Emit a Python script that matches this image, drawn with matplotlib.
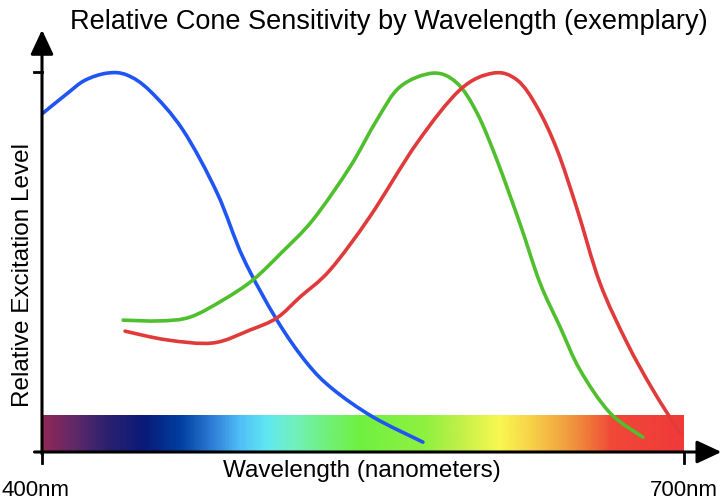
import numpy as np
import matplotlib
matplotlib.use("Agg")
import matplotlib.pyplot as plt
from matplotlib.colors import LinearSegmentedColormap
from matplotlib.patches import ArrowStyle, PathPatch
from matplotlib.path import Path

plt.rcParams['font.family'] = ['Liberation Sans', 'DejaVu Sans']

# curves (wavelength nm, relative level)
blue_nm = [400.5, 411.7, 420.0, 430.4, 439.7, 450.5, 465.9, 481.8, 494.0,
           509.8, 523.8, 536.0, 554.7, 578.0]
blue_lvl = [0.892, 0.943, 0.978, 0.997, 0.992, 0.950, 0.847, 0.682, 0.511,
            0.347, 0.234, 0.165, 0.092, 0.026]

green_nm = [437.9, 455.1, 469.2, 484.6, 498.6, 512.0, 526.6, 543.9, 556.5, 567.3,
            582.7, 593.9, 603.3, 612.6, 623.4, 632.7, 642.1, 651.4, 665.4, 680.8]
green_lvl = [0.347, 0.345, 0.355, 0.400, 0.453, 0.525, 0.611, 0.750, 0.874, 0.961,
             0.997, 0.971, 0.892, 0.768, 0.600, 0.445, 0.329, 0.216, 0.103, 0.039]

red_nm = [438.8, 458.4, 479.9, 497.2, 509.8, 520.6, 534.6, 553.3, 575.2,
          595.3, 610.8, 622.0, 631.3, 640.7, 650.0, 660.7, 673.4, 685.5, 698.1]
red_lvl = [0.318, 0.295, 0.287, 0.321, 0.353, 0.408, 0.479, 0.620, 0.813,
           0.953, 0.997, 0.979, 0.908, 0.795, 0.640, 0.445, 0.287, 0.163, 0.050]

# spectrum bar colour stops
spec_nm = [400, 414.5, 430.4, 447.2, 464.5, 479.9, 492.5, 505.1, 517.3, 531.3,
           548.6, 579.9, 595.3, 614.0, 629.4, 645.3, 657.5, 666.8, 700]
spec_col = ['#902858', '#602868', '#2a2070', '#0a1a78', '#0040a0', '#3080d8',
            '#50c0f8', '#60e8f0', '#70f0c0', '#70f080', '#70f040', '#90f040',
            '#c0f048', '#f8f850', '#f8d048', '#f0a040', '#f07038', '#f04838', '#f03a38']


def smooth_path(xs, ys):
    # catmull-rom through the read points, drawn as cubic bezier segments
    p = np.column_stack([xs, ys])
    verts = [p[0]]
    codes = [Path.MOVETO]
    for i in range(len(p) - 1):
        p0 = p[i - 1] if i > 0 else p[i]
        p3 = p[i + 2] if i + 2 < len(p) else p[i + 1]
        c1 = p[i] + (p[i + 1] - p0) / 6
        c2 = p[i + 1] - (p3 - p[i]) / 6
        verts += [c1, c2, p[i + 1]]
        codes += [Path.CURVE4] * 3
    return Path(verts, codes)


fig = plt.figure(figsize=(7.21, 5.0), dpi=100)
ax = fig.add_axes([42 / 721, 48 / 500, 642 / 721, 380 / 500])
ax.set_xlim(400, 700)
ax.set_ylim(0, 1)
ax.axis('off')

# spectrum bar
pos = [(w - 400) / 300 for w in spec_nm]
cmap = LinearSegmentedColormap.from_list('spec', list(zip(pos, spec_col)))
grad = np.linspace(0, 1, 600).reshape(1, -1)
ax.imshow(grad, extent=(400, 700, 0, 0.097), aspect='auto', cmap=cmap, zorder=1)

# curves
for xs, ys, c in [(blue_nm, blue_lvl, '#2055f5'),
                  (green_nm, green_lvl, '#4fbf2e'),
                  (red_nm, red_lvl, '#e03a3a')]:
    ax.add_patch(PathPatch(smooth_path(xs, ys), fill=False, edgecolor=c, lw=2.6,
                           capstyle='round', joinstyle='round', clip_on=False, zorder=3))

# axes with arrows
style = ArrowStyle('-|>', head_length=1.5, head_width=0.7)
arrow = dict(arrowstyle=style, color='black', lw=2.2, mutation_scale=10, shrinkA=0, shrinkB=0)
ax.annotate('', xy=(400, 1.111), xytext=(400, -0.005), arrowprops=arrow,
            annotation_clip=False, zorder=4)
ax.annotate('', xy=(717.5, 0), xytext=(396.5, 0), arrowprops=arrow,
            annotation_clip=False, zorder=4)
# ticks
ax.plot([396.3, 400], [1, 1], color='black', lw=2.0, clip_on=False)
ax.plot([400, 400], [0, -0.03], color='black', lw=2.0, clip_on=False)
ax.plot([700, 700], [0, -0.03], color='black', lw=2.0, clip_on=False)

# text
fig.text(389 / 721, 1 - 22 / 500, 'Relative Cone Sensitivity by Wavelength (exemplary)',
         ha='center', va='center', fontsize=19.5)
fig.text(362 / 721, 1 - 471 / 500, 'Wavelength (nanometers)',
         ha='center', va='center', fontsize=17.5)
fig.text(36 / 721, 1 - 491 / 500, '400nm', ha='center', va='center', fontsize=16)
fig.text(684 / 721, 1 - 491 / 500, '700nm', ha='center', va='center', fontsize=16)
fig.text(23 / 721, 1 - 275 / 500, 'Relative Excitation Level', rotation=90,
         ha='center', va='center', fontsize=17.5)

fig.savefig('out.png', dpi=100)
